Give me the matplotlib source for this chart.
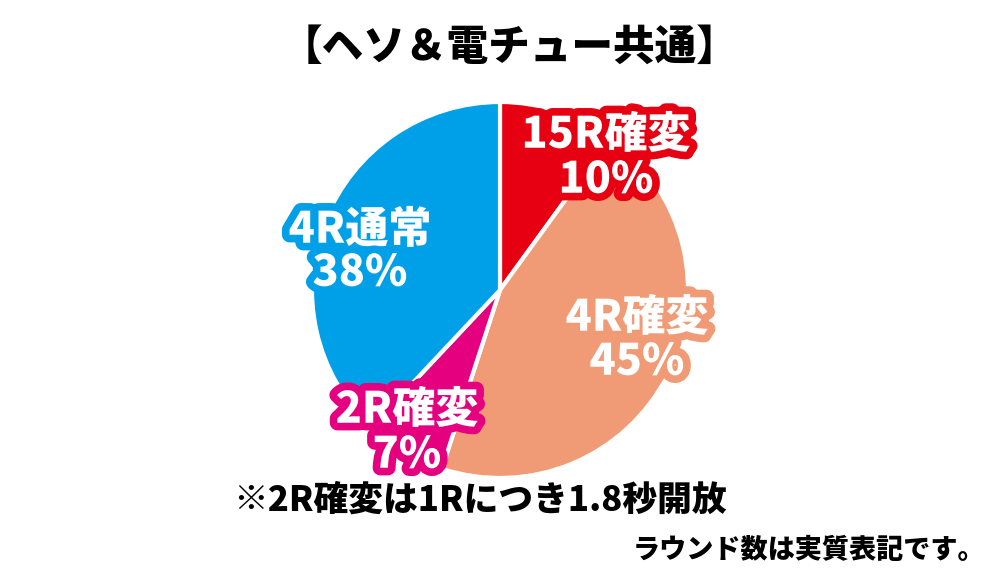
import matplotlib
matplotlib.use("Agg")
import matplotlib.pyplot as plt
import matplotlib.patheffects as pe

plt.rcParams['font.family'] = ['Noto Sans CJK JP', 'DejaVu Sans']

categories = ["15R確変", "4R確変", "2R確変", "4R通常"]
values = [10, 45, 7, 38]
pct_labels = ["10%", "45%", "7%", "38%"]
colors = ["#E60012", "#F19B76", "#E4007F", "#00A0E9"]
title = "【ヘソ＆電チュー共通】"
note = "※2R確変は1Rにつき1.8秒開放"
footnote = "ラウンド数は実質表記です。"

W, H = 1000, 577
fig = plt.figure(figsize=(W / 100, H / 100), dpi=100)
ax = fig.add_axes([0, 0, 1, 1])

cx, cy, r = 500, H - 290, 188
ax.pie(values, colors=colors, startangle=90, counterclock=False,
       center=(cx, cy), radius=r,
       wedgeprops=dict(edgecolor='white', linewidth=3), frame=True)
ax.set_xlim(0, W)
ax.set_ylim(0, H)
ax.set_aspect('equal')
ax.axis('off')

label_pos = [(606, 135, 180), (637, 318, 362), (407, 410, 455), (360, 230, 273)]
for cat, pct, col, (x, y1, y2) in zip(categories, pct_labels, colors, label_pos):
    for txt, yy in ((cat, y1), (pct, y2)):
        ax.text(x, H - yy, txt, ha='center', va='center', fontsize=31,
                fontweight='black', color='white',
                path_effects=[pe.withStroke(linewidth=11, foreground=col)])

ax.text(510, H - 48, title, ha='center', va='center', fontsize=30,
        fontweight='black', color='black')
ax.text(480, H - 500, note, ha='center', va='center', fontsize=25,
        fontweight='black', color='black')
ax.text(985, H - 550, footnote, ha='right', va='center', fontsize=19.5,
        fontweight='black', color='black')

fig.savefig("out.png", dpi=100)
